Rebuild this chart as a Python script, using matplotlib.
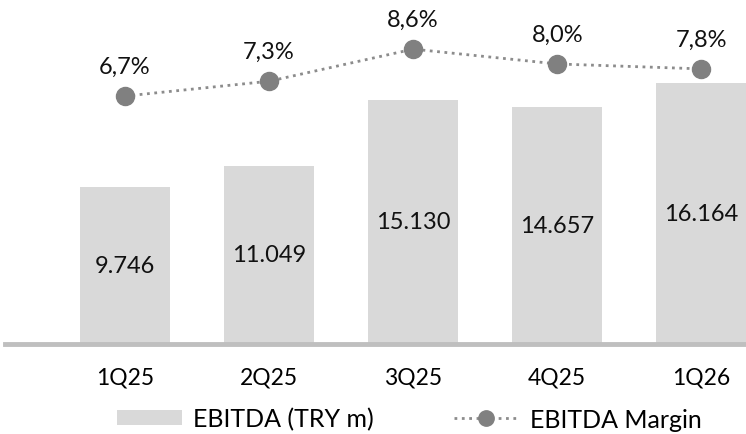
import numpy as np
import matplotlib.pyplot as plt

plt.rcParams['font.family'] = ['Lato', 'DejaVu Sans']

quarters = ['1Q25', '2Q25', '3Q25', '4Q25', '1Q26']
ebitda = [9746, 11049, 15130, 14657, 16164]
margin = [6.7, 7.3, 8.6, 8.0, 7.8]
ebitda_labels = ['9.746', '11.049', '15.130', '14.657', '16.164']
margin_labels = ['6,7%', '7,3%', '8,6%', '8,0%', '7,8%']

fig = plt.figure(figsize=(7.46, 4.35), dpi=100)
ax = fig.add_axes([5/746, 1 - 345/435, 741/746, 345/435])
x = np.arange(len(quarters))

ax.bar(x, ebitda, width=0.625, color='#d9d9d9', label='EBITDA (TRY m)', zorder=2)
for xi, v, lab in zip(x, ebitda, ebitda_labels):
    ax.text(xi, v / 2, lab, ha='center', va='center', fontsize=17, color='#111111', zorder=3)

ax.set_xlim(-0.833, 4.31)
ax.set_ylim(0, 21360)
ax.set_yticks([])
ax.set_xticks(x)
ax.set_xticklabels(quarters, fontsize=16.5)
ax.tick_params(axis='x', length=0, pad=16)
for s in ['top', 'right', 'left']:
    ax.spines[s].set_visible(False)
ax.spines['bottom'].set_color('#bfbfbf')
ax.spines['bottom'].set_linewidth(3.5)

ax2 = ax.twinx()
ax2.plot(x, margin, color='#8c8c8c', linestyle=':', linewidth=2,
         marker='o', markersize=13, markerfacecolor='#808080', markeredgecolor='#808080',
         label='EBITDA Margin', zorder=4)
for xi, v, lab in zip(x, margin, margin_labels):
    ax2.annotate(lab, (xi, v), xytext=(0, 14), textcoords='offset points',
                 ha='center', va='bottom', fontsize=17, color='#111111')
ax2.set_ylim(-3.34, 10.63)
ax2.set_yticks([])
for s in ['top', 'right', 'left', 'bottom']:
    ax2.spines[s].set_visible(False)

h1, l1 = ax.get_legend_handles_labels()
h2, l2 = ax2.get_legend_handles_labels()
fig.legend(h1 + h2, l1 + l2, loc='center left', bbox_to_anchor=(117/746, 1 - 420/435),
           ncol=2, frameon=False, fontsize=18, handlelength=2.6, handleheight=0.56,
           handletextpad=0.44, columnspacing=3.2, borderpad=0, borderaxespad=0,
           markerscale=0.85)

plt.savefig('out.png', dpi=100)
